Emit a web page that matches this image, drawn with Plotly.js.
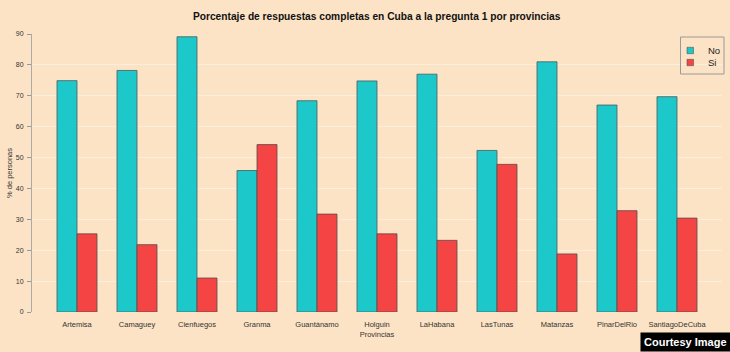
<!DOCTYPE html>
<html>
<head>
<meta charset="utf-8">
<script src="https://cdn.plot.ly/plotly-3.0.1.min.js"></script>
<style>html,body{margin:0;padding:0;background:#fde3c5;}#chart{width:730px;height:352px;}</style>
</head>
<body>
<div id="chart"></div>
<script>
const provincias = ["Artemisa","Camaguey","Cienfuegos","Granma","Guantánamo","Holguin","LaHabana","LasTunas","Matanzas","PinarDelRio","SantiagoDeCuba"];
const valoresNo = [74.9, 78.2, 89.1, 45.8, 68.4, 74.8, 77.0, 52.3, 81.0, 67.0, 69.7];
const valoresSi = [25.3, 21.8, 11.0, 54.2, 31.7, 25.3, 23.2, 47.8, 18.8, 32.8, 30.4];
const yTicks = [0,10,20,30,40,50,60,70,80,90];
const series = ["No", "Si"];
const colores = ["#1cc8c9", "#f44444"];

const font = "Liberation Sans, Arial, sans-serif";
const M = {l:32, r:8, t:34, b:40};
const W = 730, H = 352;
const pw = W - M.l - M.r, ph = H - M.t - M.b;
const px = x => (x - M.l) / pw;          // pixel -> paper x
const py = y => (H - M.b - y) / ph;      // pixel -> paper y

const traces = [
  {type:"bar", name:series[0], x:provincias, y:valoresNo, showlegend:false,
   marker:{color:colores[0], line:{color:"#4a5a5a", width:0.8}}},
  {type:"bar", name:series[1], x:provincias, y:valoresSi, showlegend:false,
   marker:{color:colores[1], line:{color:"#5a4a4a", width:0.8}}}
];

// custom compact legend (R-style box)
const shapes = [
  {type:"rect", xref:"paper", yref:"paper", x0:px(680.5), x1:px(724), y0:py(37), y1:py(74),
   line:{color:"#9a9a9a", width:1}, fillcolor:"rgba(0,0,0,0)"}
];
const annotations = [];
series.forEach((s, i) => {
  const cy = 50.5 + i * 12;
  shapes.push({type:"rect", xref:"paper", yref:"paper", x0:px(687), x1:px(693.5), y0:py(cy-3.2), y1:py(cy+3.2),
               line:{color:"#555", width:0.6}, fillcolor:colores[i]});
  annotations.push({text:s, xref:"paper", yref:"paper", x:px(706), y:py(cy), xanchor:"left", yanchor:"middle",
                    showarrow:false, font:{size:9.5, color:"#222", family:font}});
});
annotations.push({text:"<b>Courtesy Image</b>", xref:"paper", yref:"paper", x:1.0124, y:py(332),
                  xanchor:"right", yanchor:"top", showarrow:false, bgcolor:"#000",
                  font:{size:11, color:"#fff", family:font}, borderpad:3});

const layout = {
  width:W, height:H,
  paper_bgcolor:"#fde3c5", plot_bgcolor:"#fde3c5",
  margin:M, showlegend:false,
  barmode:"group", bargap:0.333, bargroupgap:0,
  font:{family:font, color:"#333"},
  title:{text:"<b>Porcentaje de respuestas completas en Cuba a la pregunta 1 por provincias</b>",
         font:{size:10.2, color:"#111", family:font}, x:0.516, xanchor:"center", y:0.952, yanchor:"middle"},
  xaxis:{range:[-0.75, 10.75], showline:false, showgrid:false, zeroline:false, ticks:"",
         tickfont:{size:7.5, color:"#333"}, ticklabelstandoff:6, automargin:false,
         title:{text:"Provincias", font:{size:7.5, color:"#333"}, standoff:4}},
  yaxis:{range:[0,90], tickvals:yTicks, ticks:"outside", ticklen:4, tickcolor:"#999", tickwidth:1,
         showline:true, linecolor:"#aaa", linewidth:1, zeroline:false,
         showgrid:true, gridcolor:"#fbeedd", gridwidth:1,
         tickfont:{size:7, color:"#333"}, automargin:false, ticklabelstandoff:2,
         title:{text:"% de personas", font:{size:7.5, color:"#333"}, standoff:2}},
  shapes:shapes,
  annotations:annotations
};
Plotly.newPlot("chart", traces, layout, {displayModeBar:false, staticPlot:true});
</script>
</body>
</html>
